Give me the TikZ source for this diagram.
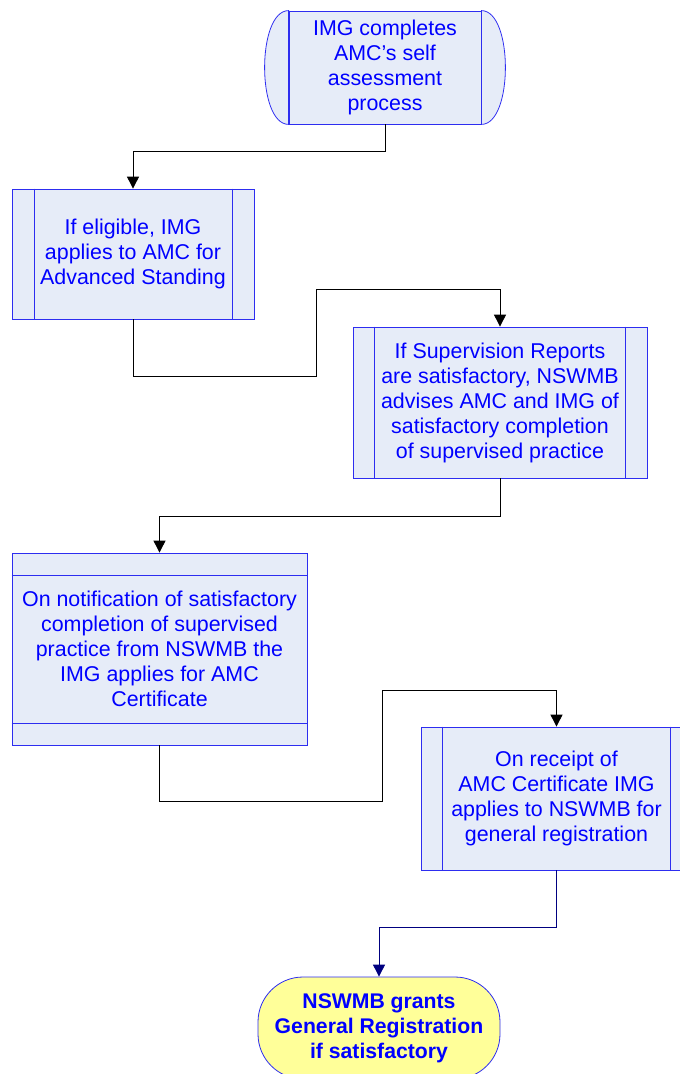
\documentclass[tikz,border=0pt]{standalone}
\usepackage{fontspec}
\setmainfont{Liberation Sans}
\usetikzlibrary{arrows.meta, calc, positioning}
\definecolor{boxfill}{RGB}{230,236,248}
\definecolor{boxline}{RGB}{45,45,240}
\definecolor{boxtext}{RGB}{0,0,255}
\definecolor{termfill}{RGB}{255,255,153}
\definecolor{navyline}{RGB}{0,0,128}
\tikzset{
  procbox/.style={rectangle, draw=boxline, fill=boxfill, text=boxtext, line width=0.8pt,
    inner sep=0pt, align=center, font=\fontsize{21.4}{25}\selectfont},
  termbox/.style={rectangle, rounded corners=45pt, draw=boxline, fill=termfill, text=boxtext,
    line width=0.8pt, inner sep=0pt, align=center, font=\fontsize{21.2}{25}\selectfont\bfseries},
  sideline/.style={draw=boxline, line width=0.8pt},
  flow/.style={draw=black, line width=0.9pt, -{Triangle[width=12pt,length=12pt]}}
}

\begin{document}
\begin{tikzpicture}[x=1pt, y=-1pt]
\useasboundingbox (0,0) rectangle (680,1074);
\clip (0,0) rectangle (680,1074);
\node[procbox, minimum width=192pt, minimum height=113pt] (start) at (385,67.5)
  {IMG completes\\AMC’s self\\assessment\\process};
\draw[sideline, fill=boxfill] (start.north west) .. controls ($(start.north west)+(-32,0)$) and ($(start.south west)+(-32,0)$) .. (start.south west) -- cycle;
\draw[sideline, fill=boxfill] (start.north east) .. controls ($(start.north east)+(32,0)$) and ($(start.south east)+(32,0)$) .. (start.south east) -- cycle;

\node[procbox, minimum width=242pt, minimum height=130pt] (elig) at (133,254)
  {If eligible, IMG\\applies to AMC for\\Advanced Standing};
\draw[sideline] ($(elig.north west)+(23,0)$) -- ($(elig.south west)+(23,0)$);
\draw[sideline] ($(elig.north east)+(-22,0)$) -- ($(elig.south east)+(-22,0)$);

\node[procbox, minimum width=294pt, minimum height=151pt] (super) at (500,402.5)
  {If Supervision Reports\\are satisfactory, NSWMB\\advises AMC and IMG of\\satisfactory completion\\of supervised practice};
\draw[sideline] ($(super.north west)+(22,0)$) -- ($(super.south west)+(22,0)$);
\draw[sideline] ($(super.north east)+(-22,0)$) -- ($(super.south east)+(-22,0)$);

\node[procbox, minimum width=295pt, minimum height=192pt] (notif) at (159.5,649)
  {On notification of satisfactory\\completion of supervised\\practice from NSWMB the\\IMG applies for AMC\\Certificate};
\draw[sideline] ($(notif.north west)+(0,23)$) -- ($(notif.north east)+(0,23)$);
\draw[sideline] ($(notif.south west)+(0,-22)$) -- ($(notif.south east)+(0,-22)$);

\node[procbox, minimum width=271pt, minimum height=143pt] (receipt) at (556.5,798.5)
  {On receipt of\\AMC Certificate IMG\\applies to NSWMB for\\general registration};
\draw[sideline] ($(receipt.north west)+(22,0)$) -- ($(receipt.south west)+(22,0)$);
\draw[sideline] ($(receipt.north east)+(-22,0)$) -- ($(receipt.south east)+(-22,0)$);

\node[termbox, minimum width=242pt, minimum height=102pt] (grant) at (379,1028)
  {NSWMB grants\\General Registration\\if satisfactory};

\draw[flow] (start.south) -- ++(0,27) -| (elig.north);
\draw[flow] (elig.south) |- (316,376) -- (316,289) -| (super.north);
\draw[flow] (super.south) -- ++(0,38) -| (notif.north);
\draw[flow] (notif.south) |- (382,801) -- (382,690) -| (receipt.north);
\draw[flow, draw=navyline] (receipt.south) -- ++(0,57) -| (grant.north);
\end{tikzpicture}
\end{document}
